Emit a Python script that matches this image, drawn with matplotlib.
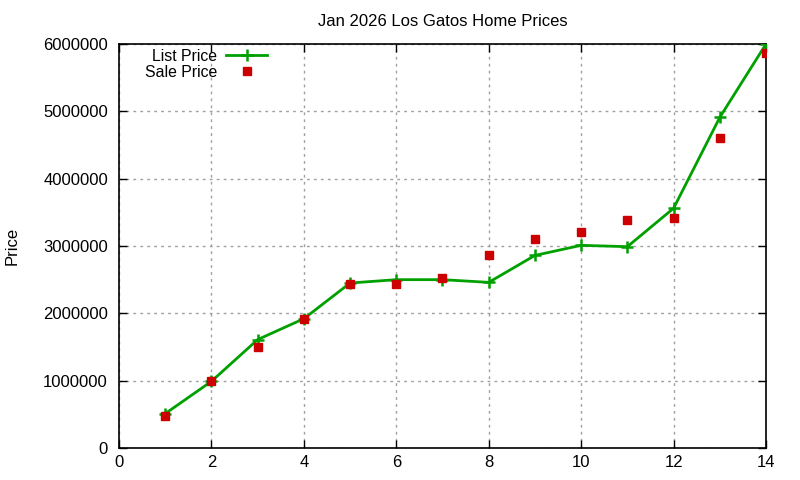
import matplotlib
matplotlib.use("Agg")
import matplotlib.pyplot as plt
from matplotlib.ticker import FixedLocator

plt.rcParams['font.family'] = ['Liberation Sans', 'DejaVu Sans']

months = [1, 2, 3, 4, 5, 6, 7, 8, 9, 10, 11, 12, 13, 14]
list_price = [510000, 990000, 1610000, 1920000, 2450000, 2500000, 2500000,
              2460000, 2860000, 3010000, 2990000, 3560000, 4910000, 6000000]
sale_price = [480000, 990000, 1500000, 1920000, 2440000, 2440000, 2530000,
              2870000, 3110000, 3210000, 3380000, 3410000, 4610000, 5860000]
x_ticks = [0, 2, 4, 6, 8, 10, 12, 14]
y_ticks = [0, 1000000, 2000000, 3000000, 4000000, 5000000, 6000000]

fig = plt.figure(figsize=(8, 4.8), dpi=100)
ax = fig.add_axes([119/800, 1 - 448/480, (766-119)/800, (448-44)/480])

ax.plot(months, list_price, color='#00a000', lw=2, marker='+', ms=9, mew=1.8,
        label='List Price', zorder=3)
ax.plot(months, sale_price, ls='none', marker='s', ms=6, color='#cc0000',
        label='Sale Price', zorder=4)

ax.set_xlim(0, 14)
ax.set_ylim(0, 6000000)
ax.xaxis.set_major_locator(FixedLocator(x_ticks))
ax.yaxis.set_major_locator(FixedLocator(y_ticks))
ax.set_xticklabels([str(v) for v in x_ticks])
ax.set_yticklabels([str(v) for v in y_ticks])
ax.tick_params(direction='in', length=6, width=1, top=True, right=True,
               labelsize=12, colors='black')
ax.tick_params(axis='y', pad=8)
ax.tick_params(axis='x', pad=5)
ax.grid(True, color='#a0a0a0', ls=(0, (2, 3)), lw=1)
for s in ax.spines.values():
    s.set_linewidth(1.2)

ax.set_title('Jan 2026 Los Gatos Home Prices', fontsize=12, pad=13)
fig.text(12/800, 1 - 246/480, 'Price', rotation=90, fontsize=12,
         ha='center', va='center')

leg = ax.legend(loc='upper left', bbox_to_anchor=(26/647, 1 - 5/404),
                frameon=False, markerfirst=False, fontsize=11.4,
                handlelength=2.6, borderaxespad=0, borderpad=0,
                labelspacing=0.05, handletextpad=0.55)
for t in leg.get_texts():
    t.set_ha('right')

fig.savefig('out.png', dpi=100)
